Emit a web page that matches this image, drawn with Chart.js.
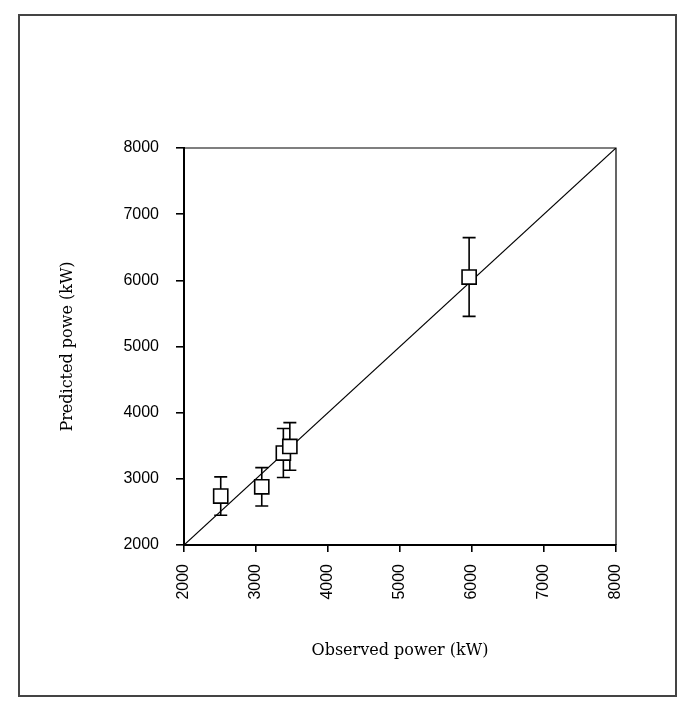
<!DOCTYPE html>
<html>
<head>
<meta charset="utf-8">
<script src="https://cdn.jsdelivr.net/npm/chart.js@4/dist/chart.umd.min.js"></script>
<style>
    body { margin: 0; background: #fff; }
    #wrap { position: relative; width: 691px; height: 710px; }
    #frame {
        position: absolute; left: 18px; top: 14px; width: 655px; height: 679px;
        border: 2px solid #444;
    }
    canvas { position: absolute; left: 0; top: 0; }
</style>
</head>
<body>
<div id="wrap">
    <div id="frame"></div>
    <canvas id="PowerChart" width="691" height="710"></canvas>
</div>
<script>
// observed vs predicted power (kW), error = half-length of the bar
var observed = [2510, 3080, 3380, 3470, 5960];
var predicted = [2740, 2880, 3390, 3490, 6050];
var errors = [290, 290, 370, 360, 595];
var unityLine = [2000, 8000];
var axisMin = 2000, axisMax = 8000, axisStep = 1000;

var points = observed.map((x, i) => ({x: x, y: predicted[i]}));

var plugins = [{
    id: 'errorbars',
    beforeDatasetsDraw: chart => {
        let ctx = chart.ctx;
        let xs = chart.scales.x, ys = chart.scales.y;
        ctx.save();
        ctx.strokeStyle = '#000';
        ctx.lineWidth = 1.6;
        observed.forEach((x, i) => {
            let px = xs.getPixelForValue(x);
            let top = ys.getPixelForValue(predicted[i] + errors[i]);
            let bot = ys.getPixelForValue(predicted[i] - errors[i]);
            ctx.beginPath();
            ctx.moveTo(px, top);
            ctx.lineTo(px, bot);
            ctx.moveTo(px - 6.5, top);
            ctx.lineTo(px + 6.5, top);
            ctx.moveTo(px - 6.5, bot);
            ctx.lineTo(px + 6.5, bot);
            ctx.stroke();
        });
        ctx.restore();
    },
    afterDraw: chart => {
        // top and right edges of the plot box
        let a = chart.chartArea;
        let ctx = chart.ctx;
        ctx.save();
        ctx.strokeStyle = '#000';
        ctx.lineWidth = 1.2;
        ctx.beginPath();
        ctx.moveTo(a.left, a.top);
        ctx.lineTo(a.right, a.top);
        ctx.lineTo(a.right, a.bottom);
        ctx.stroke();
        ctx.restore();
    }
}];

var tickFont = {family: "'Liberation Sans', Arial, sans-serif", size: 16};
var titleFont = {family: "'DejaVu Serif', 'Liberation Serif', serif", size: 16};
var plainTick = v => String(v);

var options = {
    responsive: false,
    animation: false,
    layout: {padding: {left: 0, top: 148, right: 75, bottom: 0}},
    plugins: {legend: {display: false}, tooltip: {enabled: false}},
    scales: {
        x: {
            type: 'linear',
            min: axisMin, max: axisMax,
            afterFit: scale => { scale.height = 165; },
            border: {display: true, color: '#000', width: 2},
            grid: {display: true, drawOnChartArea: false, drawTicks: true, tickLength: 7, color: '#000', lineWidth: 1.6},
            ticks: {stepSize: axisStep, minRotation: 90, maxRotation: 90, padding: 12, color: '#000', font: tickFont, callback: plainTick},
            title: {display: true, text: 'Observed power (kW)', color: '#000', font: titleFont, padding: {bottom: 50}}
        },
        y: {
            type: 'linear',
            min: axisMin, max: axisMax,
            afterFit: scale => { scale.width = 184; },
            border: {display: true, color: '#000', width: 2},
            grid: {display: true, drawOnChartArea: false, drawTicks: true, tickLength: 8, color: '#000', lineWidth: 1.6},
            ticks: {stepSize: axisStep, padding: 17, color: '#000', font: tickFont, callback: plainTick},
            title: {display: true, text: 'Predicted powe (kW)', color: '#000', font: titleFont, padding: {top: 58}}
        }
    }
};

new Chart(document.getElementById('PowerChart'), {
    type: 'scatter',
    options: options,
    plugins: plugins,
    data: {
        datasets: [{
            type: 'line',
            data: unityLine.map(v => ({x: v, y: v})),
            borderColor: '#000',
            borderWidth: 1.2,
            pointRadius: 0,
            fill: false,
            order: 2
        }, {
            data: points,
            pointStyle: 'rect',
            pointRadius: 10,
            pointBackgroundColor: '#fff',
            pointBorderColor: '#000',
            pointBorderWidth: 1.6,
            order: 1
        }]
    }
});
</script>
</body>
</html>
